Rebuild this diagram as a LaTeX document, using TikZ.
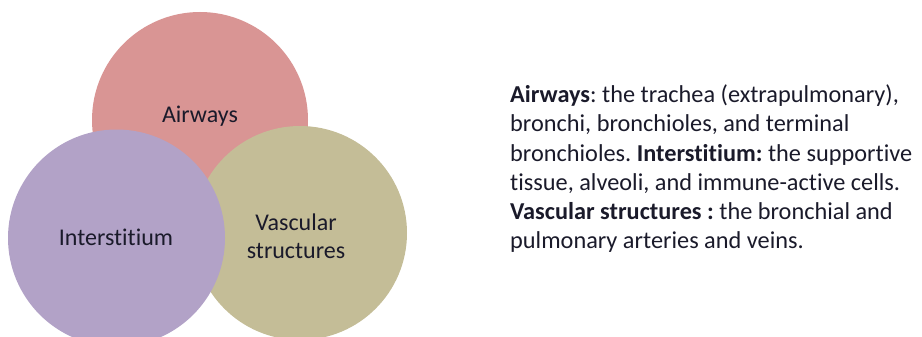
\documentclass[tikz,border=0pt]{standalone}
\usepackage{fontspec}
\setmainfont[Ligatures={NoCommon,NoRare,NoDiscretionary}]{Carlito}
\definecolor{airc}{HTML}{D99594}
\definecolor{intc}{HTML}{B2A2C7}
\definecolor{vasc}{HTML}{C4BD97}
\definecolor{txt}{HTML}{1A1A2A}
\begin{document}
\frenchspacing
\begin{tikzpicture}[x=1pt,y=-1pt,
  bubble/.style={circle,minimum size=216pt,inner sep=0pt,draw=none},
  lbl/.style={font=\fontsize{24}{28}\selectfont,text=txt,align=center}]
\useasboundingbox (0,0) rectangle (922,337);
\node[bubble,fill=airc] (air) at (200,120) {};
\node[bubble,fill=vasc,minimum size=214pt] (vas) at (300,233) {};
\node[bubble,fill=intc,minimum size=217pt] (int) at (116.5,238) {};
\node[lbl] (airt) at (200,116) {Airways};
\node[lbl] (intt) at (116,237) {Interstitium};
\node[lbl] (vast) at (296,236) {Vascular\\structures};
\node[anchor=north west,inner sep=0pt,text=txt,align=left,
  font=\fontsize{24.3}{29.3}\selectfont] (desc) at (510,84.5)
  {\textbf{Airways}: the trachea (extrapulmonary),\\
   bronchi, bronchioles, and terminal\\
   bronchioles. \textbf{Interstitium:} the supportive\\
   tissue, alveoli, and immune-active cells.\\
   \textbf{Vascular structures :} the bronchial and\\
   pulmonary arteries and veins.};
\end{tikzpicture}
\end{document}
